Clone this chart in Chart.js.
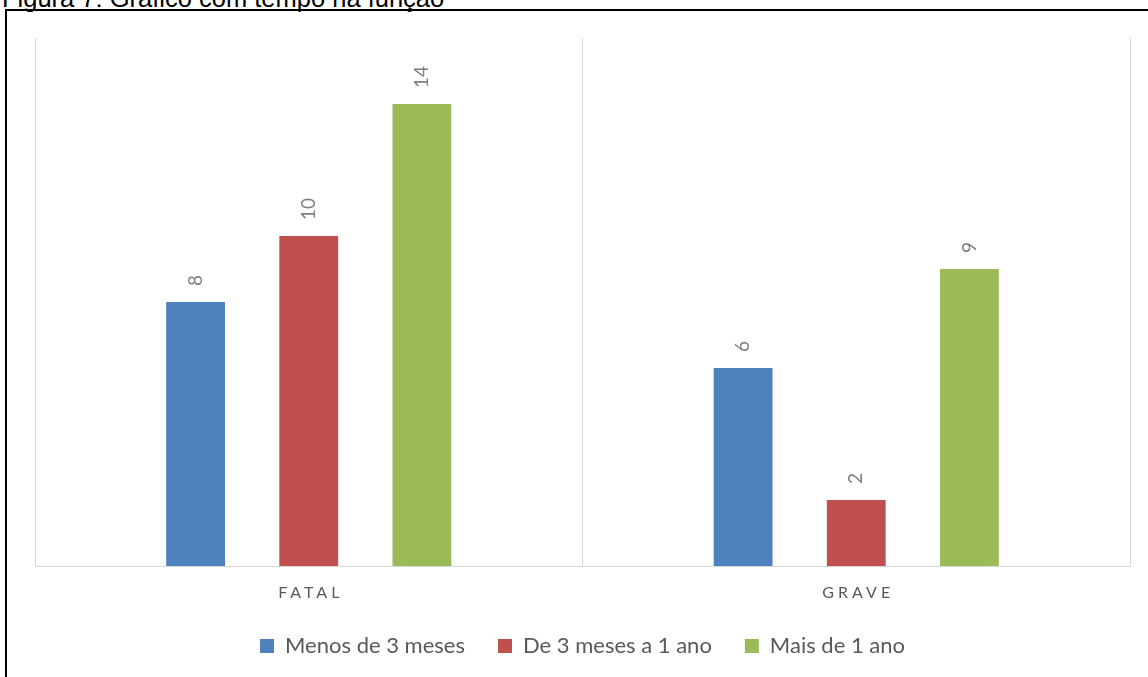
<!DOCTYPE html><html lang="pt"><head><meta charset="utf-8"/>
<title>Figura 7</title>
<script src="https://cdn.jsdelivr.net/npm/chart.js@4.4.1/dist/chart.umd.min.js"></script>
<style>
  html,body{margin:0;padding:0;background:#fff;overflow:hidden}
  body{width:1148px;height:677px;position:relative}
  .title{position:absolute;left:2px;top:-15px;font:25.5px/26px "Liberation Sans",Arial,sans-serif;color:#000;white-space:nowrap}
  .frame{position:absolute;left:5px;top:9px;width:1200px;height:720px;border:2px solid #000;box-sizing:border-box}
  .wrap{position:absolute;left:0;top:0;width:1148px;height:677px}
</style></head><body>
<div class="title">Figura 7: Gráfico com tempo na função</div>
<div class="frame"></div>
<div class="wrap"><canvas id="chart" width="1148" height="677"></canvas></div>
<script>
// categorias e séries
const categories = ['FATAL', 'GRAVE'];
const seriesNames = ['Menos de 3 meses', 'De 3 meses a 1 ano', 'Mais de 1 ano'];
const menos3meses = [8, 6];
const de3mesesA1ano = [10, 2];
const mais1ano = [14, 9];
const colors = ['#4f81bd', '#c0504d', '#9bbb59'];
const yMax = 16;

const FONT = 'Lato, "Noto Sans", sans-serif';

// rótulos de valor girados acima das barras
const valueLabels = {
  id: 'valueLabels',
  afterDatasetsDraw(chart) {
    const ctx = chart.ctx;
    ctx.save();
    ctx.fillStyle = '#7f7f7f';
    ctx.font = '19px ' + FONT;
    ctx.textAlign = 'left';
    ctx.textBaseline = 'middle';
    chart.data.datasets.forEach((ds, i) => {
      chart.getDatasetMeta(i).data.forEach((bar, j) => {
        ctx.save();
        ctx.translate(bar.x, bar.y - 16);
        ctx.rotate(-Math.PI / 2);
        ctx.fillText(String(ds.data[j]), 0, 0);
        ctx.restore();
      });
    });
    ctx.restore();
  }
};

// nomes das categorias com espaçamento entre letras
const catLabels = {
  id: 'catLabels',
  afterDraw(chart) {
    const ctx = chart.ctx, x = chart.scales.x;
    ctx.save();
    ctx.fillStyle = '#595959';
    ctx.font = '16px ' + FONT;
    ctx.letterSpacing = '4px';
    ctx.textAlign = 'center';
    ctx.textBaseline = 'middle';
    categories.forEach((c, i) => ctx.fillText(c, x.getPixelForValue(i) + 2, 593));
    ctx.restore();
  }
};

new Chart(document.getElementById('chart'), {
  type: 'bar',
  data: {
    labels: categories,
    datasets: [menos3meses, de3mesesA1ano, mais1ano].map((d, i) => ({
      label: seriesNames[i], data: d, backgroundColor: colors[i],
      categoryPercentage: 0.62, barPercentage: 0.52
    }))
  },
  options: {
    responsive: false,
    animation: false,
    layout: { padding: { top: 38, left: 35, right: 18, bottom: 10 } },
    plugins: {
      tooltip: { enabled: false },
      legend: {
        position: 'bottom',
        labels: { boxWidth: 14, boxHeight: 14, padding: 33, color: '#595959', font: { family: FONT, size: 22 } }
      }
    },
    scales: {
      y: { display: false, min: 0, max: yMax },
      x: {
        ticks: { display: false },
        grid: { color: '#d9d9d9', drawTicks: false },
        border: { color: '#d9d9d9' },
        afterFit(s) { s.height = 36; }
      }
    }
  },
  plugins: [valueLabels, catLabels]
});
</script></body></html>
